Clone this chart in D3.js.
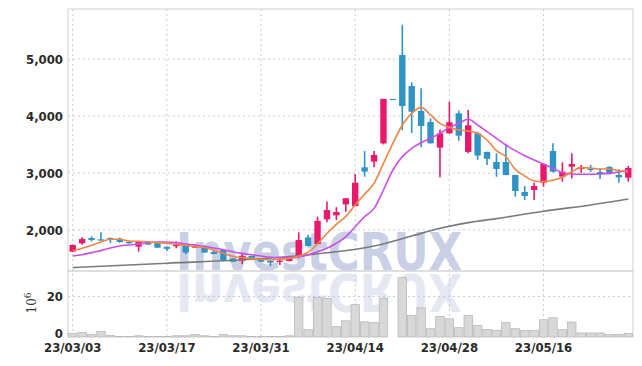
<!DOCTYPE html>
<html>
<head>
<meta charset="utf-8">
<script src="https://cdn.jsdelivr.net/npm/d3@7"></script>
<style>
body { margin: 0; background: #fff; }
svg { display: block; }
.lbl text { font-family: 'DejaVu Sans Condensed', 'DejaVu Sans', sans-serif; font-stretch: condensed; font-weight: bold; font-size: 13px; fill: #2a2a2a; }
</style>
</head>
<body>
<svg id="chart" width="642" height="366"></svg>
<script>
// trading days, 23/03/03 .. 23/05/30
const dates = ['23/03/03','23/03/06','23/03/07','23/03/08','23/03/09','23/03/10','23/03/13','23/03/14','23/03/15','23/03/16',
  '23/03/17','23/03/20','23/03/21','23/03/22','23/03/23','23/03/24','23/03/27','23/03/28','23/03/29','23/03/30',
  '23/03/31','23/04/03','23/04/04','23/04/05','23/04/06','23/04/07','23/04/10','23/04/11','23/04/12','23/04/13',
  '23/04/14','23/04/17','23/04/18','23/04/19','23/04/20','23/04/21','23/04/24','23/04/25','23/04/26','23/04/27',
  '23/04/28','23/05/02','23/05/03','23/05/04','23/05/08','23/05/09','23/05/10','23/05/11','23/05/12','23/05/15',
  '23/05/16','23/05/17','23/05/18','23/05/19','23/05/22','23/05/23','23/05/24','23/05/25','23/05/26','23/05/30'];

const opens  = [1620,1767,1860,1836,1860,1845,1795,1708,1784,1770, 1705,1720,1720,1690,1720,1615,1650,1500,1462,1545,
                1500,1462,1440,1456,1545,1870,1755,2187,2257,2450, 2420,3100,3200,3520,4300,5070,4525,4090,3895,3445,
                3696,4047,3370,3696,3370,3193,3193,2965,2667,2702, 2830,3386,2936,3111,3070,3076,3018,3105,2965,2918];
const highs  = [1745,1872,1890,1960,1870,1870,1800,1800,1800,1790, 1710,1800,1725,1740,1730,1630,1660,1505,1575,1550,
                1505,1470,1515,1510,1960,1915,2235,2500,2400,2560, 2980,3385,3385,4300,4300,5600,4590,4485,3960,3765,
                4250,4095,4105,3725,3375,3345,3500,2970,2772,2830, 3165,3520,3187,3345,3140,3140,3082,3120,3064,3123];
const lows   = [1610,1740,1800,1813,1770,1775,1760,1620,1735,1685, 1630,1680,1575,1685,1600,1575,1450,1440,1400,1490,
                1440,1370,1385,1450,1505,1710,1750,2135,2175,2320, 2415,2935,3100,3500,4290,3750,3700,3450,3520,2925,
                3690,3565,3345,3230,3140,2935,2960,2585,2526,2526, 2760,3010,2848,2906,3006,3020,2895,2975,2830,2848];
const closes = [1737,1842,1825,1826,1830,1790,1767,1795,1745,1690, 1670,1737,1605,1725,1605,1580,1465,1445,1545,1500,
                1445,1428,1462,1503,1825,1720,2160,2350,2316,2556, 2830,3025,3316,4300,4290,4175,4075,3825,3520,3696,
                3890,3655,3836,3305,3250,3070,2965,2685,2597,2772, 3158,3023,3023,3158,3105,3053,2977,2994,2924,3088];

// volume, millions of shares
const volumes = [1.7,2.3,1.3,2.8,0.8,0.3,0.3,0.6,0.3,0.3, 0.2,0.6,0.6,1.2,0.6,0.3,1.2,0.6,0.6,0.3,
                 0.2,0.3,0.2,0.6,19.6,3.6,19.5,19.0,5.1,8.0, 16.0,7.5,7.1,19.0,0,29.3,10.7,14.4,4.1,10.2,
                 9.0,4.6,10.7,5.7,3.7,3.3,7.1,4.1,3.3,3.3, 8.5,9.5,3.6,7.4,2.0,2.0,2.0,1.3,1.3,1.8];

// moving averages
const maShort = [1632,1679,1731,1790,1837,1837,1807,1801,1795,1778, 1767,1749,1731,1708,1693,1650,1591,1540,1515,1500,
                 1486,1474,1486,1503,1540,1610,1760,1940,2100,2240, 2440,2630,2819,3170,3520,3842,4047,4152,4018,3871,
                 3801,3754,3737,3696,3579,3392,3287,3064,2947,2860, 2848,2877,2924,3023,3094,3088,3070,3070,3041,3018];
const maMid   = [1544,1567,1603,1638,1684,1720,1737,1754,1778,1790, 1790,1778,1754,1737,1710,1685,1655,1620,1590,1565,
                 1544,1521,1515,1521,1532,1561,1620,1679,1767,1880, 2058,2234,2380,2702,3053,3287,3433,3532,3608,3696,
                 3801,3871,3942,3842,3725,3608,3491,3392,3304,3228, 3158,3082,3006,2982,2977,2977,2982,2994,3018,3053];
const maLongIdx = [0,10,20,27,32,36,39,42,45,50,55,59];
const maLongVal = [1340,1418,1497,1600,1720,1895,2030,2130,2200,2330,2440,2544];

const priceTicks = [2000,3000,4000,5000];
const volTicks = [0,20];
const dateTickIdx = [0,10,20,30,40,50];

const upColor = '#e8196b', downColor = '#2f93c6';

const svg = d3.select('#chart');
const plotL = 68, plotR = 633, plotT = 9, plotMid = 271, plotB = 337;

const x = d3.scaleBand().domain(d3.range(dates.length)).range([plotL, plotR]).padding(0);
const cx = i => x(i) + x.bandwidth() / 2;
const yP = d3.scaleLinear().domain([1281, 5877]).range([plotMid, plotT]);
const yV = d3.scaleLinear().domain([0, 32.6]).range([plotB, plotMid]);

svg.append('defs').append('clipPath').attr('id', 'volClip')
  .append('rect').attr('x', plotL).attr('y', plotMid + 1).attr('width', plotR - plotL).attr('height', plotB - plotMid);

// watermark + reflection
const wmFont = "'DejaVu Sans', 'Liberation Sans', sans-serif";
const wm = svg.append('g');
wm.append('text')
  .attr('x', 176).attr('y', 270)
  .attr('textLength', 286).attr('lengthAdjust', 'spacingAndGlyphs')
  .style('font-family', wmFont).style('font-weight', 'bold').style('font-size', '52px')
  .attr('fill', '#c9d0e5')
  .text('InvestCRUX');
wm.append('g').attr('clip-path', 'url(#volClip)')
  .append('text')
  .attr('transform', `translate(0,${2 * plotMid}) scale(1,-1)`)
  .attr('x', 176).attr('y', 268)
  .attr('textLength', 286).attr('lengthAdjust', 'spacingAndGlyphs')
  .style('font-family', wmFont).style('font-weight', 'bold').style('font-size', '52px')
  .attr('fill', '#e5e8f2')
  .text('InvestCRUX');

// grid
const grid = svg.append('g').attr('stroke', '#c6c9dc').attr('stroke-dasharray', '2,3').attr('stroke-width', 1);
grid.selectAll('.hp').data(priceTicks).join('line').attr('class', 'hp')
  .attr('x1', plotL).attr('x2', plotR).attr('y1', d => yP(d)).attr('y2', d => yP(d));
grid.selectAll('.hv').data(volTicks.filter(d => d > 0)).join('line').attr('class', 'hv')
  .attr('x1', plotL).attr('x2', plotR).attr('y1', d => yV(d)).attr('y2', d => yV(d));
grid.selectAll('.vx').data(dateTickIdx).join('line').attr('class', 'vx')
  .attr('x1', d => cx(d)).attr('x2', d => cx(d)).attr('y1', plotT).attr('y2', plotB);

// frame
const frame = svg.append('g').attr('stroke', '#cfcfcf').attr('fill', 'none');
frame.append('line').attr('x1', plotL).attr('x2', plotR).attr('y1', plotT).attr('y2', plotT);
frame.append('line').attr('x1', plotL).attr('x2', plotL).attr('y1', plotT).attr('y2', plotB);
frame.append('line').attr('x1', plotR).attr('x2', plotR).attr('y1', plotT).attr('y2', plotB);
frame.append('line').attr('x1', plotL).attr('x2', plotR).attr('y1', plotMid).attr('y2', plotMid).attr('stroke', '#bdbdbd');

// volume bars
svg.append('g').selectAll('rect').data(volumes).join('rect')
  .attr('x', (d, i) => x(i) + 0.5)
  .attr('width', x.bandwidth() - 1)
  .attr('y', d => yV(d))
  .attr('height', d => yV(0) - yV(d))
  .attr('fill', '#d8d8d8')
  .attr('stroke', d => d > 0 ? '#b9b9b9' : 'none')
  .attr('stroke-width', 0.8);

// candles
const candles = svg.append('g').selectAll('g').data(d3.range(dates.length)).join('g');
const col = i => closes[i] >= opens[i] ? upColor : downColor;
candles.append('line')
  .attr('x1', i => cx(i)).attr('x2', i => cx(i))
  .attr('y1', i => yP(highs[i])).attr('y2', i => yP(lows[i]))
  .attr('stroke', col).attr('stroke-width', 1.6);
candles.append('rect')
  .attr('x', i => cx(i) - 3.2)
  .attr('width', 6.4)
  .attr('y', i => yP(Math.max(opens[i], closes[i])))
  .attr('height', i => Math.max(1.2, Math.abs(yP(opens[i]) - yP(closes[i]))))
  .attr('fill', col);

// moving averages
const line = d3.line().x(d => cx(d[0])).y(d => yP(d[1])).curve(d3.curveMonotoneX);
svg.append('path').datum(maLongIdx.map((d, i) => [d, maLongVal[i]]))
  .attr('d', line).attr('fill', 'none').attr('stroke', '#7a7a7a').attr('stroke-width', 1.6);
svg.append('path').datum(maMid.map((d, i) => [i, d]))
  .attr('d', line).attr('fill', 'none').attr('stroke', '#cc4ee8').attr('stroke-width', 1.6);
svg.append('path').datum(maShort.map((d, i) => [i, d]))
  .attr('d', line).attr('fill', 'none').attr('stroke', '#ef8444').attr('stroke-width', 1.6);

// axes
const yAxisP = svg.append('g').attr('class', 'lbl').attr('transform', `translate(${plotL},0)`)
  .call(d3.axisLeft(yP).tickValues(priceTicks).tickFormat(d3.format(',')).tickSize(0).tickPadding(5));
const yAxisV = svg.append('g').attr('class', 'lbl').attr('transform', `translate(${plotL},0)`)
  .call(d3.axisLeft(yV).tickValues(volTicks).tickSize(0).tickPadding(5));
const xAxis = svg.append('g').attr('class', 'lbl').attr('transform', `translate(0,${plotB})`)
  .call(d3.axisBottom(x).tickValues(dateTickIdx).tickFormat(i => dates[i]).tickSize(0).tickPadding(6));
[yAxisP, yAxisV, xAxis].forEach(a => a.select('.domain').remove());
yAxisV.selectAll('.tick text').attr('dy', d => d === 0 ? '0.05em' : '0.32em');
svg.selectAll('.lbl text').attr('fill', '#2a2a2a');

// unit label
const unit = svg.append('text')
  .attr('transform', 'translate(36,303) rotate(-90)')
  .attr('text-anchor', 'middle')
  .style('font-family', "'DejaVu Serif', serif").style('font-size', '12px').attr('fill', '#333');
unit.append('tspan').text('10');
unit.append('tspan').attr('dy', -5).style('font-size', '9px').text('6');
</script>
</body>
</html>
